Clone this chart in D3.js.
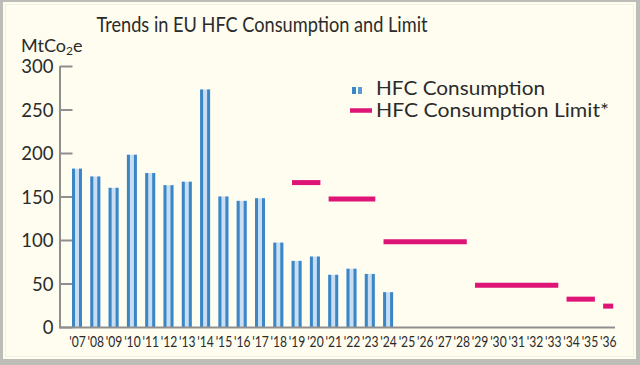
<!DOCTYPE html>
<html><head><meta charset="utf-8">
<script src="https://cdn.jsdelivr.net/npm/d3@7"></script>
<style>html,body{margin:0;padding:0;background:#fff}svg{display:block}</style>
</head><body>
<svg id="c" width="640" height="365"></svg>
<script>
const categories = ["'07","'08","'09","'10","'11","'12","'13","'14","'15","'16","'17","'18","'19","'20","'21","'22","'23","'24","'25","'26","'27","'28","'29","'30","'31","'32","'33","'34","'35","'36"];
const consumptionYears = ["'07","'08","'09","'10","'11","'12","'13","'14","'15","'16","'17","'18","'19","'20","'21","'22","'23","'24"];
const consumptionValues = [182,173,160,198,177,163,167,273,150,145,148,97,76,81,60,67,61,40];
const limitStart = ["'19","'21","'24","'29","'34","'36"];
const limitEnd   = ["'20","'23","'28","'33","'35","'36"];
const limitValues = [166,147,98,48,32,24];
const yTicks = [0,50,100,150,200,250,300];

const font = "Lato, 'Open Sans', sans-serif";
const svg = d3.select("#c");

// frame
svg.append("rect").attr("x",0).attr("y",0).attr("width",640).attr("height",365).attr("fill","#bdbdb8");
svg.append("rect").attr("x",3).attr("y",2).attr("width",633).attr("height",357).attr("fill","#fefdf0");
svg.append("rect").attr("x",5.5).attr("y",4.5).attr("width",628).attr("height",352).attr("fill","none").attr("stroke","#f1f0e2").attr("stroke-width",1);

const x = d3.scalePoint().domain(categories).range([77, 607.7]);
const step = x.step();
const y = d3.scaleLinear().domain([0,300]).range([327,66]);

// title
svg.append("text").attr("x",262).attr("y",32).attr("text-anchor","middle")
  .attr("font-family",font).attr("font-size",21).attr("fill","#2b2b2b")
  .attr("textLength",331).attr("lengthAdjust","spacingAndGlyphs")
  .text("Trends in EU HFC Consumption and Limit");

// unit label
const unit = svg.append("text").attr("x",21).attr("y",52).attr("font-family",font).attr("font-size",18).attr("fill","#2b2b2b");
unit.append("tspan").text("MtCo");
unit.append("tspan").attr("font-size",12).attr("dy",3).text("2");
unit.append("tspan").attr("dy",-3).text("e");

// y axis
const yAxis = d3.axisLeft(y).tickValues(yTicks).tickSizeInner(-13).tickSizeOuter(0).tickPadding(6);
const gy = svg.append("g").attr("transform","translate(59.5,0)").call(yAxis);
gy.select(".domain").attr("stroke","#8f8f8f").attr("stroke-width",2);
gy.selectAll(".tick line").attr("stroke","#8f8f8f").attr("stroke-width",2);
gy.selectAll(".tick text").attr("font-family",font).attr("font-size",18.5).attr("fill","#2b2b2b").attr("dy","0.36em");

// bars
const bars = svg.append("g");
consumptionYears.forEach((c,i)=>{
  const cx = x(c), top = y(consumptionValues[i]), h = y(0)-top;
  bars.append("rect").attr("x",cx-5).attr("y",top).attr("width",10).attr("height",h).attr("fill","#c9def3");
  bars.append("rect").attr("x",cx-5).attr("y",top).attr("width",3).attr("height",h).attr("fill","#3b86c6");
  bars.append("rect").attr("x",cx+2).attr("y",top).attr("width",3).attr("height",h).attr("fill","#3b86c6");
});

// x axis
svg.append("line").attr("x1",59).attr("x2",615).attr("y1",y(0)+0.5).attr("y2",y(0)+0.5).attr("stroke","#8f8f8f").attr("stroke-width",2);
const xAxis = d3.axisBottom(x).tickSize(0).tickPadding(0);
const gx = svg.append("g").attr("transform","translate(0,347)").call(xAxis);
gx.select(".domain").remove();
gx.selectAll(".tick text").attr("font-family",font).attr("font-size",14.5).attr("fill","#2b2b2b")
  .attr("y",0).attr("dy",0).attr("textLength",16.5).attr("lengthAdjust","spacingAndGlyphs");

// limit lines
const lim = svg.append("g");
limitValues.forEach((v,i)=>{
  lim.append("line").attr("x1",x(limitStart[i])-step*0.25).attr("x2",x(limitEnd[i])+step*0.3)
    .attr("y1",y(v)).attr("y2",y(v)).attr("stroke","#df1477").attr("stroke-width",5);
});

// legend
const lg = svg.append("g");
lg.append("rect").attr("x",352).attr("y",87).attr("width",4).attr("height",7).attr("fill","#3b86c6");
lg.append("rect").attr("x",358).attr("y",87).attr("width",4).attr("height",7).attr("fill","#5b9bd3");
lg.append("text").attr("x",376).attr("y",95).attr("font-family",font).attr("font-size",20).attr("fill","#2b2b2b")
  .attr("textLength",169).attr("lengthAdjust","spacingAndGlyphs").text("HFC Consumption");
lg.append("line").attr("x1",350).attr("x2",372).attr("y1",110.5).attr("y2",110.5).attr("stroke","#df1477").attr("stroke-width",4.5);
lg.append("text").attr("x",376).attr("y",117).attr("font-family",font).attr("font-size",20).attr("fill","#2b2b2b")
  .attr("textLength",233).attr("lengthAdjust","spacingAndGlyphs").text("HFC Consumption Limit*");
</script>
</body></html>
